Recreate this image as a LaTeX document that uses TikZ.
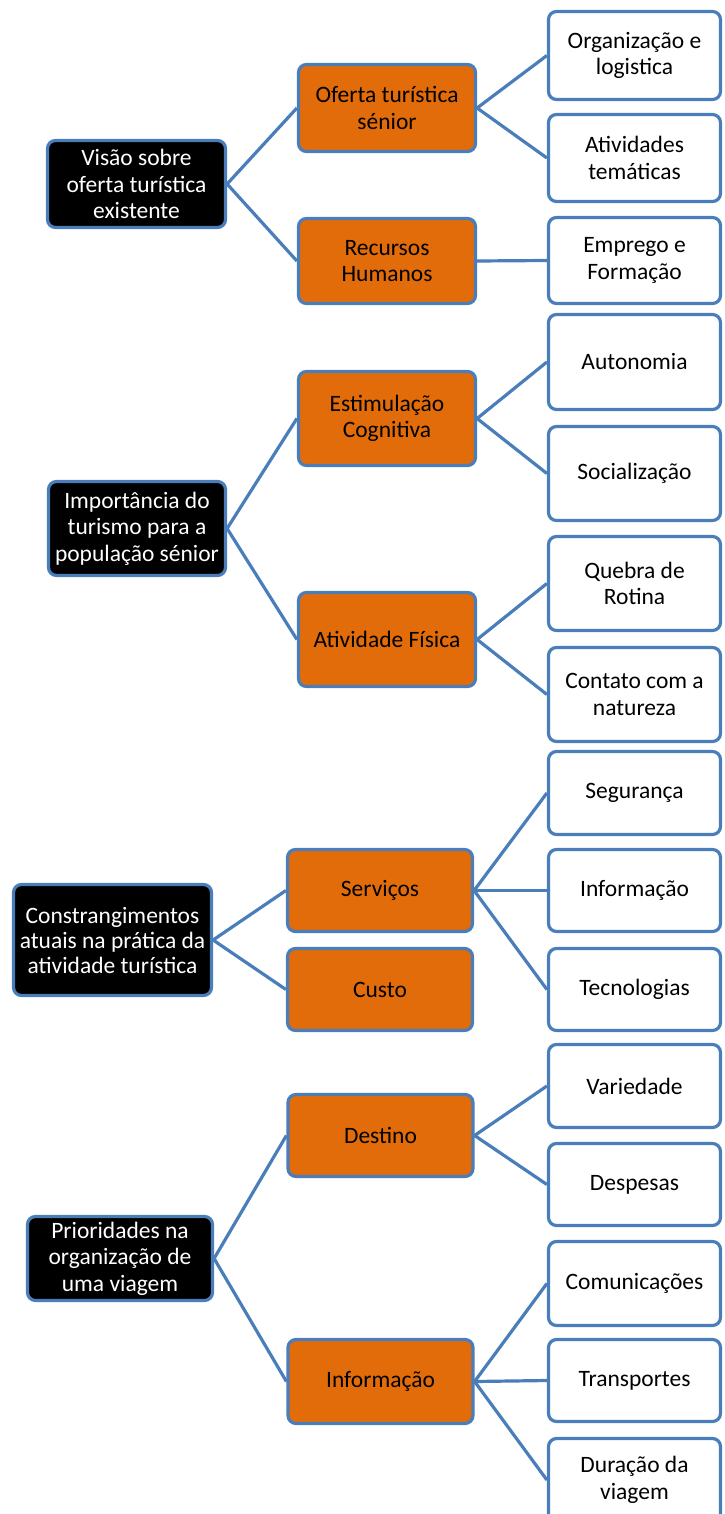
\documentclass[tikz,border=0pt]{standalone}
\usepackage{fontspec}
\setmainfont{Carlito}
\definecolor{bordc}{RGB}{74,126,187}
\definecolor{orangec}{RGB}{227,108,10}
\tikzset{
  boxbase/.style={draw=bordc, line width=3.2pt, rounded corners=8pt, align=center, inner sep=0pt,
    font=\fontsize{23.5}{26.5}\selectfont},
  rootbox/.style={boxbase, fill=black, text=white},
  midbox/.style={boxbase, fill=orangec, text=black},
  leafbox/.style={boxbase, fill=white, text=black, minimum width=172pt},
  conn/.style={draw=bordc, line width=3.2pt}
}
\begin{document}
\begin{tikzpicture}[x=1pt,y=-1pt]
\useasboundingbox (0,0) rectangle (724,1514);
\clip (0,0) rectangle (724,1514);
% Group 1
\node[rootbox, minimum width=178pt, minimum height=87pt] (r1) at (136.5,184) {Visão sobre\\oferta turística\\existente};
\node[midbox, minimum width=177pt, minimum height=87pt] (m1a) at (387,108) {Oferta turística\\sénior};
\node[midbox, minimum width=177pt, minimum height=85pt] (m1b) at (387,261) {Recursos\\Humanos};
\node[leafbox, minimum height=88pt] (l1a) at (634.5,55.5) {Organização e\\logistica};
\node[leafbox, minimum height=87pt] (l1b) at (634.5,158) {Atividades\\temáticas};
\node[leafbox, minimum height=86pt] (l1c) at (634.5,260.5) {Emprego e\\Formação};
% Group 2
\node[rootbox, minimum width=177pt, minimum height=94pt] (r2) at (137,528.5) {Importância do\\turismo para a\\população sénior};
\node[midbox, minimum width=177pt, minimum height=94pt] (m2a) at (387,418.5) {Estimulação\\Cognitiva};
\node[midbox, minimum width=177pt, minimum height=94pt] (m2b) at (387,639.5) {Atividade Física};
\node[leafbox, minimum height=95pt] (l2a) at (634.5,362) {Autonomia};
\node[leafbox, minimum height=94pt] (l2b) at (634.5,473.5) {Socialização};
\node[leafbox, minimum height=94pt] (l2c) at (634.5,583.5) {Quebra de\\Rotina};
\node[leafbox, minimum height=94pt] (l2d) at (634.5,694.5) {Contato com a\\natureza};
% Group 3
\node[rootbox, minimum width=198pt, minimum height=111pt, font=\fontsize{23.5}{25}\selectfont] (r3) at (112.5,940) {Constrangimentos\\atuais na prática da\\atividade turística};
\node[midbox, minimum width=185pt, minimum height=82pt] (m3a) at (380,890.5) {Serviços};
\node[midbox, minimum width=185pt, minimum height=82pt] (m3b) at (380,989.5) {Custo};
\node[leafbox, minimum height=83pt] (l3a) at (634.5,793) {Segurança};
\node[leafbox, minimum height=82pt] (l3b) at (634.5,890.5) {Informação};
\node[leafbox, minimum height=82pt] (l3c) at (634.5,989.5) {Tecnologias};
% Group 4
\node[rootbox, minimum width=185pt, minimum height=84pt] (r4) at (120,1258.5) {Prioridades na\\organização de\\uma viagem};
\node[midbox, minimum width=185pt, minimum height=82pt] (m4a) at (380.5,1135.5) {Destino};
\node[midbox, minimum width=185pt, minimum height=84pt] (m4b) at (380.5,1381.5) {Informação};
\node[leafbox, minimum height=83pt] (l4a) at (634.5,1086) {Variedade};
\node[leafbox, minimum height=82pt] (l4b) at (634.5,1184.5) {Despesas};
\node[leafbox, minimum height=84pt] (l4c) at (634.5,1283.5) {Comunicações};
\node[leafbox, minimum height=82pt] (l4d) at (634.5,1380.5) {Transportes};
\node[leafbox, minimum height=83pt] (l4e) at (634.5,1480) {Duração da\\viagem};
% Connectors
\draw[conn] (r1.east) -- (m1a.west);
\draw[conn] (r1.east) -- (m1b.west);
\draw[conn] (m1a.east) -- (l1a.west);
\draw[conn] (m1a.east) -- (l1b.west);
\draw[conn] (m1b.east) -- (l1c.west);
\draw[conn] (r2.east) -- (m2a.west);
\draw[conn] (r2.east) -- (m2b.west);
\draw[conn] (m2a.east) -- (l2a.west);
\draw[conn] (m2a.east) -- (l2b.west);
\draw[conn] (m2b.east) -- (l2c.west);
\draw[conn] (m2b.east) -- (l2d.west);
\draw[conn] (r3.east) -- (m3a.west);
\draw[conn] (r3.east) -- (m3b.west);
\draw[conn] (m3a.east) -- (l3a.west);
\draw[conn] (m3a.east) -- (l3b.west);
\draw[conn] (m3a.east) -- (l3c.west);
\draw[conn] (r4.east) -- (m4a.west);
\draw[conn] (r4.east) -- (m4b.west);
\draw[conn] (m4a.east) -- (l4a.west);
\draw[conn] (m4a.east) -- (l4b.west);
\draw[conn] (m4b.east) -- (l4c.west);
\draw[conn] (m4b.east) -- (l4d.west);
\draw[conn] (m4b.east) -- (l4e.west);
\end{tikzpicture}
\end{document}
